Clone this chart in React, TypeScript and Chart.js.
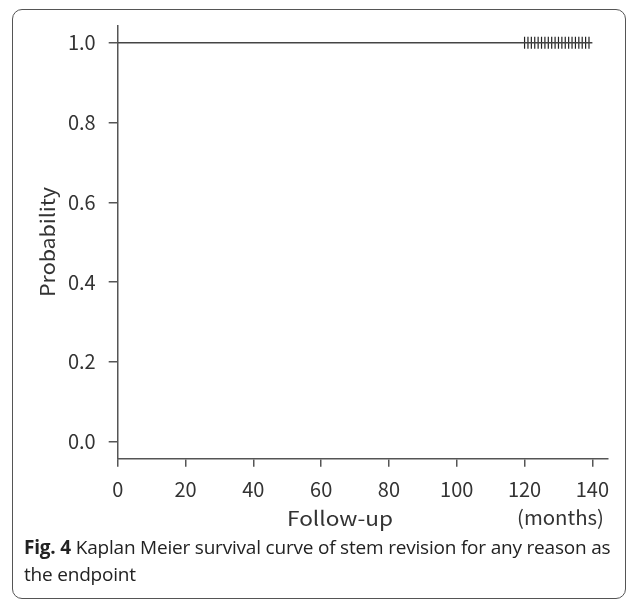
import React, { useEffect, useRef } from "react";
import { Chart, registerables } from "chart.js";

Chart.register(...registerables);

// ---- data ----
const curveMonths: number[] = [0, 140];
const curveSurvival: number[] = [1.0, 1.0];
const censorMonths: number[] = [120, 121, 122, 123, 124, 125, 126, 127, 128, 129, 130, 131, 132, 133, 134, 135, 136, 137, 138, 139];
const censorSurvival: number[] = [1, 1, 1, 1, 1, 1, 1, 1, 1, 1, 1, 1, 1, 1, 1, 1, 1, 1, 1, 1];
const xTickValues: number[] = [0, 20, 40, 60, 80, 100, 120, 140];
const yTickValues: number[] = [0, 0.2, 0.4, 0.6, 0.8, 1.0];
const yTickLabels: string[] = ["0.0", "0.2", "0.4", "0.6", "0.8", "1.0"];
const xTitle = "Follow-up";
const xUnit = "(months)";
const yTitle = "Probability";

const W = 637;
const CH = 535;
const AREA_LEFT = 117.7;
const AREA_RIGHT = 607.3;
const AREA_TOP = 26;
const AREA_BOTTOM = 458.3;
const FONT = '"Noto Sans CJK JP", "Noto Sans", sans-serif';
const INK = "#333";
const AXIS = "#555";

function fitText(ctx: any, text: string, x: number, y: number, width: number) {
  const w = ctx.measureText(text).width;
  ctx.save();
  ctx.translate(x, y);
  ctx.scale(width / w, 1);
  ctx.fillText(text, 0, 0);
  ctx.restore();
}

export default function App() {
  const ref = useRef<HTMLCanvasElement | null>(null);

  useEffect(() => {
    if (!ref.current) return;
    const textPlugin = {
      id: "extraText",
      afterDraw(chart: any) {
        const ctx = chart.ctx;
        ctx.save();
        ctx.fillStyle = INK;
        ctx.font = `20px ${FONT}`;
        ctx.textAlign = "center";
        ctx.textBaseline = "middle";
        fitText(ctx, xTitle, 340, 518, 106);
        fitText(ctx, xUnit, 560.5, 517, 87);
        ctx.translate(47, 242);
        ctx.rotate(-Math.PI / 2);
        fitText(ctx, yTitle, 0, 0, 110);
        ctx.restore();
      },
    };
    const chart = new Chart(ref.current, {
      type: "line",
      data: {
        datasets: [
          {
            label: "survival",
            data: curveMonths.map((m, i) => ({ x: m, y: curveSurvival[i] })),
            stepped: true,
            borderColor: "#444",
            borderWidth: 1.6,
            pointRadius: 0,
            fill: false,
          } as any,
          {
            label: "censored",
            type: "scatter",
            data: censorMonths.map((m, i) => ({ x: m, y: censorSurvival[i] })),
            pointStyle: "line",
            rotation: 90,
            radius: 6,
            borderColor: "#222",
            borderWidth: 1.2,
            showLine: false,
          } as any,
        ],
      },
      options: {
        responsive: false,
        animation: false,
        devicePixelRatio: 1,
        layout: { padding: { left: 0, top: AREA_TOP, right: W - AREA_RIGHT, bottom: 0 } },
        plugins: { legend: { display: false }, tooltip: { enabled: false }, title: { display: false } },
        scales: {
          x: {
            type: "linear",
            min: 0,
            max: 144.4,
            afterBuildTicks: (axis: any) => {
              axis.ticks = xTickValues.map((v) => ({ value: v }));
            },
            afterFit: (axis: any) => {
              axis.height = CH - AREA_BOTTOM;
            },
            grid: {
              drawOnChartArea: false,
              drawTicks: true,
              tickLength: 8.4,
              color: AXIS,
              lineWidth: 1.5,
            },
            border: { display: true, color: AXIS, width: 1.5 },
            ticks: {
              color: INK,
              font: { family: FONT, size: 20 },
              padding: 11,
              maxRotation: 0,
              autoSkip: false,
              callback: (v: any) => String(v),
            },
          },
          y: {
            type: "linear",
            min: -0.042,
            max: 1.042,
            afterBuildTicks: (axis: any) => {
              axis.ticks = yTickValues.map((v) => ({ value: v }));
            },
            afterFit: (axis: any) => {
              axis.width = AREA_LEFT;
            },
            grid: {
              drawOnChartArea: false,
              drawTicks: true,
              tickLength: 9,
              color: AXIS,
              lineWidth: 1.5,
            },
            border: { display: true, color: AXIS, width: 1.5 },
            ticks: {
              color: INK,
              font: { family: FONT, size: 20 },
              padding: 13,
              autoSkip: false,
              callback: (v: any) => {
                const i = yTickValues.findIndex((t) => Math.abs(t - Number(v)) < 1e-9);
                return i >= 0 ? yTickLabels[i] : "";
              },
            },
          },
        },
      },
      plugins: [textPlugin],
    } as any);
    return () => chart.destroy();
  }, []);

  return (
    <div style={{ position: "absolute", left: 0, top: 0, width: W, height: 601, background: "#fff", overflow: "hidden" }}>
      <div
        style={{
          position: "absolute",
          left: 12,
          top: 9,
          width: 614,
          height: 590,
          border: "1.5px solid #555",
          borderRadius: 10,
          boxSizing: "border-box",
        }}
      />
      <canvas ref={ref} width={W} height={CH} style={{ position: "absolute", left: 0, top: 0, width: W, height: CH }} />
      <div
        style={{
          position: "absolute",
          left: 24,
          top: 534,
          width: 600,
          fontFamily: '"Open Sans", sans-serif',
          fontSize: 19,
          letterSpacing: "-0.2px",
          lineHeight: "27px",
          color: "#222",
          whiteSpace: "nowrap",
        }}
      >
        <b>Fig. 4</b> Kaplan Meier survival curve of stem revision for any reason as
        <br />
        the endpoint
      </div>
    </div>
  );
}
